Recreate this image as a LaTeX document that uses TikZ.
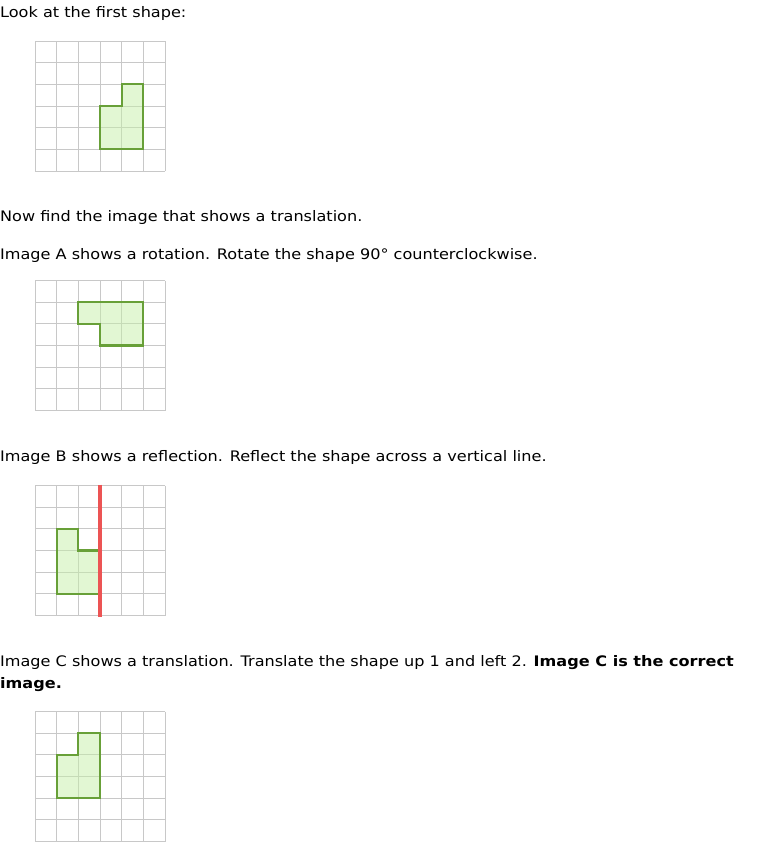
\documentclass[tikz,border=0pt]{standalone}
\usepackage{fontspec}
\setmainfont[FakeStretch=1.11]{DejaVu Sans}
\definecolor{gridgray}{RGB}{200,200,200}
\definecolor{shapefill}{RGB}{197,239,168}
\definecolor{shapeline}{RGB}{104,160,56}
\definecolor{reflred}{RGB}{236,84,84}
\begin{document}
\begin{tikzpicture}[x=1pt,y=-1pt,
  txt/.style={anchor=base west, inner sep=0pt, font=\fontsize{14.5}{22}\selectfont},
  gridline/.style={gridgray, line width=1pt},
  figfill/.style={fill=shapefill, fill opacity=0.5},
  figline/.style={shapeline, line width=2.2pt, line join=miter},
  mirror/.style={reflred, line width=3.2pt}]
\useasboundingbox (0,0) rectangle (760,846);
\def\s{21.667}
% texts
\node[txt] (t1) at (0,17) {Look at the first shape:};
\node[txt] (t2) at (0,221) {Now find the image that shows a translation.};
\node[txt] (t3) at (0,259) {Image A shows a rotation. Rotate the shape 90° counterclockwise.};
\node[txt] (t4) at (0,461) {Image B shows a reflection. Reflect the shape across a vertical line.};
\node[txt] (t5) at (0,666) {Image C shows a translation. Translate the shape up 1 and left 2. \textbf{Image C is the correct}};
\node[txt] (t6) at (0,688) {\textbf{image.}};
% grids
\foreach \gy in {41,280.5,485.5,711.5}{
  \begin{scope}[shift={(35,\gy)}]
    \foreach \i in {0,...,6}{
      \draw[gridline] ({\i*\s},0) -- ({\i*\s},130);
      \draw[gridline] (0,{\i*\s}) -- (130,{\i*\s});
    }
  \end{scope}
}
% original shape
\begin{scope}[shift={(35,41)}]
  \fill[figfill] ({3*\s},{3*\s}) -- ({4*\s},{3*\s}) -- ({4*\s},{2*\s}) -- ({5*\s},{2*\s}) -- ({5*\s},{5*\s}) -- ({3*\s},{5*\s}) -- cycle;
  \draw[figline] ({3*\s},{3*\s}) -- ({4*\s},{3*\s}) -- ({4*\s},{2*\s}) -- ({5*\s},{2*\s}) -- ({5*\s},{5*\s}) -- ({3*\s},{5*\s}) -- cycle;
\end{scope}
% image A
\begin{scope}[shift={(35,280.5)}]
  \fill[figfill] ({2*\s},{1*\s}) -- ({5*\s},{1*\s}) -- ({5*\s},{3*\s}) -- ({3*\s},{3*\s}) -- ({3*\s},{2*\s}) -- ({2*\s},{2*\s}) -- cycle;
  \draw[figline] ({2*\s},{1*\s}) -- ({5*\s},{1*\s}) -- ({5*\s},{3*\s}) -- ({3*\s},{3*\s}) -- ({3*\s},{2*\s}) -- ({2*\s},{2*\s}) -- cycle;
\end{scope}
% image B
\begin{scope}[shift={(35,485.5)}]
  \fill[figfill] ({1*\s},{2*\s}) -- ({2*\s},{2*\s}) -- ({2*\s},{3*\s}) -- ({3*\s},{3*\s}) -- ({3*\s},{5*\s}) -- ({1*\s},{5*\s}) -- cycle;
  \draw[figline] ({1*\s},{2*\s}) -- ({2*\s},{2*\s}) -- ({2*\s},{3*\s}) -- ({3*\s},{3*\s}) -- ({3*\s},{5*\s}) -- ({1*\s},{5*\s}) -- cycle;
  \coordinate (m1) at ({3*\s},-1);
  \coordinate (m2) at ({3*\s},131);
  \draw[mirror] (m1) -- (m2);
\end{scope}
% image C
\begin{scope}[shift={(35,711.5)}]
  \fill[figfill] ({1*\s},{2*\s}) -- ({2*\s},{2*\s}) -- ({2*\s},{1*\s}) -- ({3*\s},{1*\s}) -- ({3*\s},{4*\s}) -- ({1*\s},{4*\s}) -- cycle;
  \draw[figline] ({1*\s},{2*\s}) -- ({2*\s},{2*\s}) -- ({2*\s},{1*\s}) -- ({3*\s},{1*\s}) -- ({3*\s},{4*\s}) -- ({1*\s},{4*\s}) -- cycle;
\end{scope}
\end{tikzpicture}
\end{document}
